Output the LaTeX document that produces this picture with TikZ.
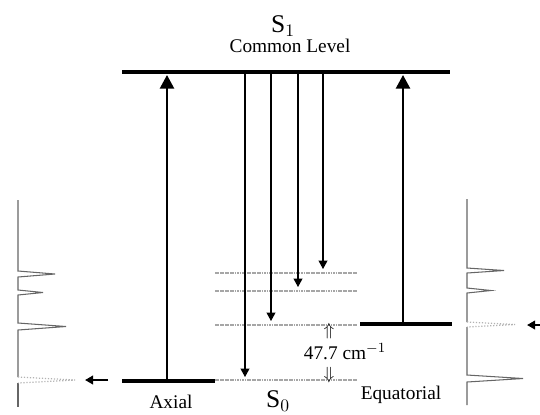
\documentclass[tikz,border=0pt]{standalone}
\usepackage{fontspec}
\setmainfont{Liberation Serif}
\usepackage{tikz}
\usetikzlibrary{arrows.meta}
\tikzset{
  lev/.style ={line width=2.6pt},
  sub/.style ={gray!70,line width=0.6pt,dash pattern=on 1pt off 0.4pt},
  up/.style  ={-{Triangle[length=2.7mm,width=2.8mm]},line width=1.2pt},
  down/.style={-{Triangle[length=1.7mm,width=1.8mm]},line width=0.6pt},
  spec/.style={gray!80!black,line width=0.6pt},
  weak/.style={gray!60,line width=0.7pt,densely dotted},
  pt/.style  ={-{Triangle[length=1.6mm,width=1.7mm]},line width=1.6pt},
  lab/.style ={font=\fontsize{11}{12}\selectfont,inner sep=0pt},
  big/.style ={font=\fontsize{14.5}{16}\selectfont,inner sep=0pt},
  hol/.style ={font=\fontsize{10}{11}\selectfont,inner sep=0pt},
}
\begin{document}
\begin{tikzpicture}[x=0.02cm,y=-0.02cm]
  \useasboundingbox (0,0) rectangle (540,414);
  % levels
  \coordinate (s1l) at (122,72);  \coordinate (s1r) at (450,72);
  \coordinate (axl) at (122,381); \coordinate (axr) at (215,381);
  \coordinate (eql) at (360,324); \coordinate (eqr) at (452,324);
  \draw[lev] (s1l) -- (s1r);
  \draw[lev] (axl) -- (axr);
  \draw[lev] (eql) -- (eqr);
  \foreach \y in {273,291,325,380}
    \draw[sub] (215,\y) -- (357,\y);
  % absorption
  \coordinate (ax) at (167,381); \coordinate (axt) at (167,75);
  \coordinate (eq) at (403,324); \coordinate (eqt) at (403,75);
  \draw[up] (ax) -- (axt);
  \draw[up] (eq) -- (eqt);
  % emission
  \foreach \x/\y in {245/377,271/321,298/287,323/269}
    \draw[down] (\x,74) -- (\x,\y);
  \node[big] (s1) at (283,26) {S$_1$};
  \node[lab] (cl) at (290,46) {Common Level};
  \node[big] (s0) at (278,401) {S$_0$};
  \node[lab] (axlab) at (171,402) {Axial};
  \node[lab] (eqlab) at (401,395) {Equatorial};
  \node[lab] (gap) at (345,352) {47.7 cm$^{-1}$};
  \node[hol] (upa) at (329,331) {$\Uparrow$};
  \node[hol] (dna) at (329,375) {$\Downarrow$};
  % spectra
  \draw[spec] (18,200) -- (18,271) -- (55,274) -- (18,277) -- (18,290) -- (43,292.5)
    -- (18,295) -- (18,323) -- (66,326.5) -- (18,330) -- (18,377);
  \draw[spec] (18,383) -- (18,407);
  \draw[weak] (18,377) -- (75,380) -- (18,383);
  \draw[spec] (467,199) -- (467,268) -- (504,270.5) -- (467,273) -- (467,288) -- (491,290.5)
    -- (467,293) -- (467,322);
  \draw[spec] (467,327) -- (467,375) -- (523,378.5) -- (467,382) -- (467,405);
  \draw[weak] (467,322) -- (515,324.5) -- (467,327);
  \coordinate (la) at (108,380); \coordinate (lat) at (85,380);
  \coordinate (ra) at (541,325); \coordinate (rat) at (527,325);
  \draw[pt] (la) -- (lat);
  \draw[pt] (ra) -- (rat);
\end{tikzpicture}
\end{document}
